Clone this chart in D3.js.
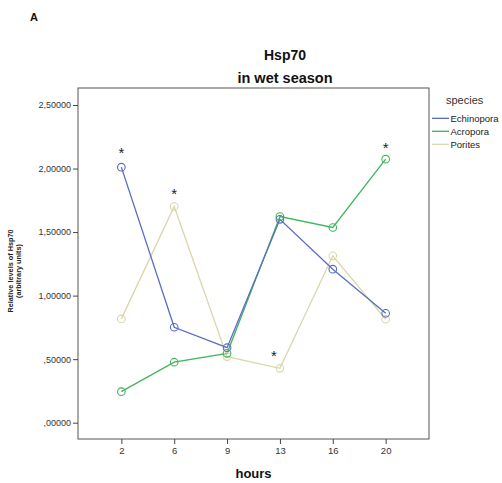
<!DOCTYPE html>
<html><head><meta charset="utf-8">
<script src="https://cdn.jsdelivr.net/npm/d3@7"></script>
<style>body{margin:0;background:#fff;font-family:Arial,"Liberation Sans",sans-serif}</style>
</head><body>
<script>
const hours = ["2","6","9","13","16","20"];
const echinopora = [2.011, 0.751, 0.590, 1.600, 1.208, 0.861];
const acropora = [0.244, 0.476, 0.546, 1.622, 1.536, 2.074];
const porites = [0.817, 1.701, 0.520, 0.428, 1.313, 0.814];
const speciesNames = ["Echinopora","Acropora","Porites"];
const speciesColors = ["#5a6cc4","#3fb55c","#d9d7a8"];
const yTicks = [0, 0.5, 1.0, 1.5, 2.0, 2.5];
const yTickLabels = [",00000",",50000","1,00000","1,50000","2,00000","2,50000"];
const stars = [{h:"2", v:2.13, dx:0},{h:"6", v:1.81, dx:0},{h:"13", v:0.53, dx:-6},{h:"20", v:2.17, dx:0}];

const W=502,H=483;
const svg=d3.select("body").append("svg").attr("width",W).attr("height",H);
const L=78,R=429,T=88,B=439;
const x=d3.scalePoint().domain(hours).range([L,R]).padding(0.82);
const y=d3.scaleLinear().domain([0,2.5]).range([422.7,105]);

svg.append("rect").attr("x",L).attr("y",T).attr("width",R-L).attr("height",B-T)
  .attr("fill","none").attr("stroke","#555").attr("stroke-width",1);

const ya=svg.append("g").attr("transform",`translate(${L},0)`)
  .call(d3.axisLeft(y).tickValues(yTicks).tickFormat((d,i)=>yTickLabels[i]).tickSize(5).tickPadding(2));
ya.select(".domain").remove();
ya.selectAll("line").attr("stroke","#444");
ya.selectAll("text").attr("font-size","9px").attr("fill","#333").attr("font-family","Arial,'Liberation Sans',sans-serif");

const xa=svg.append("g").attr("transform",`translate(0,${B})`)
  .call(d3.axisBottom(x).tickSize(5).tickPadding(3));
xa.select(".domain").remove();
xa.selectAll("line").attr("stroke","#444");
xa.selectAll("text").attr("font-size","9.5px").attr("fill","#333").attr("font-family","Arial,'Liberation Sans',sans-serif");

const series=[echinopora,acropora,porites];
const line=d3.line().x((d,i)=>x(hours[i])).y(d=>y(d));
[2,1,0].forEach(si=>{
  svg.append("path").datum(series[si]).attr("d",line).attr("fill","none")
    .attr("stroke",speciesColors[si]).attr("stroke-width",1.3);
});
[2,1,0].forEach(si=>{
  svg.selectAll(null).data(series[si]).enter().append("circle")
    .attr("cx",(d,i)=>x(hours[i])).attr("cy",d=>y(d)).attr("r",3.8)
    .attr("fill","none").attr("stroke",speciesColors[si]).attr("stroke-width",1.1);
});

svg.selectAll(null).data(stars).enter().append("text")
  .attr("x",d=>x(d.h)+d.dx).attr("y",d=>y(d.v)+6).attr("text-anchor","middle")
  .attr("font-size","15px").attr("fill","#222").text("*");

svg.append("text").attr("x",30).attr("y",21).attr("font-size","11px").attr("font-weight","bold").attr("fill","#111").text("A");
svg.append("text").attr("x",285).attr("y",60).attr("text-anchor","middle").attr("font-size","14px").attr("font-weight","bold").attr("fill","#111").text("Hsp70");
svg.append("text").attr("x",285).attr("y",83).attr("text-anchor","middle").attr("font-size","14.5px").attr("font-weight","bold").attr("fill","#111").text("in wet season");
svg.append("text").attr("x",253.5).attr("y",478).attr("text-anchor","middle").attr("font-size","13px").attr("font-weight","bold").attr("fill","#111").text("hours");

const yl=svg.append("text").attr("transform","translate(13,271) rotate(-90)").attr("text-anchor","middle")
  .attr("font-size","7.3px").attr("font-weight","bold").attr("fill","#222");
yl.append("tspan").attr("x",0).attr("dy",0).text("Relative levels of Hsp70");
yl.append("tspan").attr("x",0).attr("dy","7.5").text("(arbitrary units)");

svg.append("text").attr("x",446).attr("y",104).attr("font-size","11px").attr("fill","#333").text("species");
speciesNames.forEach((n,i)=>{
  const yy=118.3+i*13;
  svg.append("line").attr("x1",432).attr("x2",449).attr("y1",yy).attr("y2",yy).attr("stroke",speciesColors[i]).attr("stroke-width",1.3);
  svg.append("text").attr("x",450.5).attr("y",yy+3.5).attr("font-size","9.5px").attr("fill","#222").text(n);
});
</script>
</body></html>
